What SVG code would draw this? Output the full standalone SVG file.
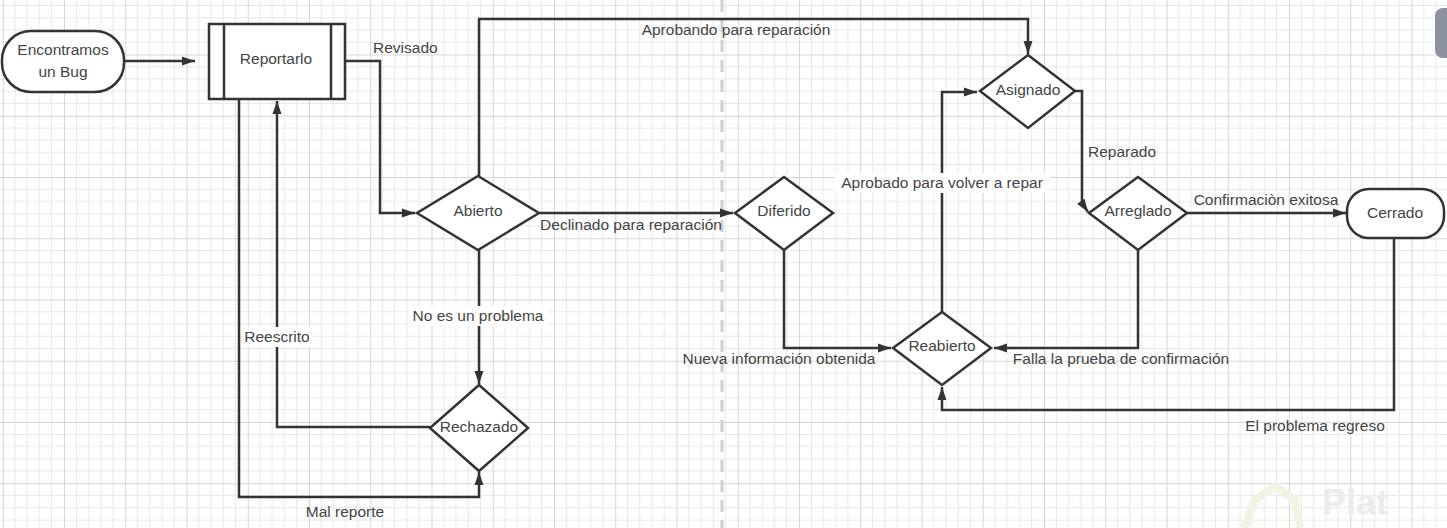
<svg xmlns="http://www.w3.org/2000/svg" width="1447" height="528" viewBox="0 0 1447 528">
<style>
.shape{fill:#fff;stroke:#333;stroke-width:2.5}
.conn{fill:none;stroke:#333;stroke-width:2.5}
.t{font-family:"Liberation Sans",Arial,sans-serif;font-size:15.5px;fill:#444;text-anchor:middle}
.lbl{font-family:"Liberation Sans",Arial,sans-serif;font-size:15.5px;fill:#444}
.bg{fill:#fff}
</style>
<defs>
<pattern id="grid" patternUnits="userSpaceOnUse" x="64" y="-6.75" width="61.25" height="61.25">
<path d="M12.25 0V61.25M24.5 0V61.25M36.75 0V61.25M49 0V61.25M0 12.25H61.25M0 24.5H61.25M0 36.75H61.25M0 49H61.25" stroke="#e7e7e7" stroke-width="1" fill="none"/>
<path d="M0.5 0V61.25M0 0.5H61.25" stroke="#d6d6d6" stroke-width="1" fill="none"/>
</pattern>
<marker id="arr" markerUnits="userSpaceOnUse" markerWidth="14" markerHeight="12" viewBox="0 0 14 12" refX="13" refY="6" orient="auto">
<path d="M0,1.5 L13,6 L0,10.5 Z" fill="#333"/>
</marker>
</defs>
<rect width="1447" height="528" fill="#fff"/>
<rect width="1447" height="528" fill="url(#grid)"/>
<line x1="722" y1="0" x2="722" y2="528" stroke="#cfcfcf" stroke-width="3" stroke-dasharray="12 8"/>
<rect x="1435" y="8" width="20" height="50" rx="8" fill="#8c919e"/>
<path d="M1245,528 L1255,500 L1275,486 L1295,500 L1300,528" fill="none" stroke="#f0f4e2" stroke-width="8"/>
<text x="1322" y="515" font-family="Liberation Sans,Arial,sans-serif" font-size="36" font-weight="bold" fill="#ececec">Plat</text>

<g id="connectors">
<path class="conn" d="M125,61 H195" marker-end="url(#arr)"/>
<path class="conn" d="M345,61 H380 V213 H415" marker-end="url(#arr)"/>
<path class="conn" d="M479,176 V19 H1028 V54" marker-end="url(#arr)"/>
<path class="conn" d="M540,213 H733" marker-end="url(#arr)"/>
<path class="conn" d="M479,250 V384" marker-end="url(#arr)"/>
<path class="conn" d="M430,427 H277 V101" marker-end="url(#arr)"/>
<path class="conn" d="M239,99 V497 H479 V472" marker-end="url(#arr)"/>
<path class="conn" d="M784,250 V348 H891" marker-end="url(#arr)"/>
<path class="conn" d="M942,312 V92 H977" marker-end="url(#arr)"/>
<path class="conn" d="M1075,91 H1082 V203 L1088,212" marker-end="url(#arr)"/>
<path class="conn" d="M1187,213 H1346" marker-end="url(#arr)"/>
<path class="conn" d="M1138,250 V348 H994" marker-end="url(#arr)"/>
<path class="conn" d="M1394,238 V410 H942 V387" marker-end="url(#arr)"/>

<text class="lbl" x="373" y="53">Revisado</text>
<text class="t" x="736" y="35">Aprobando para reparación</text>
<text class="t" x="631" y="230">Declinado para reparación</text>
<rect class="bg" x="408" y="306" width="140" height="20"/>
<text class="t" x="478" y="321">No es un problema</text>
<rect class="bg" x="243" y="327" width="70" height="20"/>
<text class="t" x="277" y="342">Reescrito</text>
<text class="t" x="345" y="517">Mal reporte</text>
<text class="t" x="779" y="364">Nueva información obtenida</text>
<rect class="bg" x="835" y="173" width="215" height="20"/>
<text class="t" x="942" y="188">Aprobado para volver a repar</text>
<text class="lbl" x="1088" y="157">Reparado</text>
<text class="t" x="1266" y="205">Confirmaciòn exitosa</text>
<text class="t" x="1121" y="364">Falla la prueba de confirmación</text>
<text class="t" x="1315" y="431">El problema regreso</text>
</g>

<g id="encontramos">
<rect class="shape" x="2" y="31" width="122" height="61" rx="29"/>
<text class="t" x="63" y="55">Encontramos</text>
<text class="t" x="63" y="77">un Bug</text>
</g>
<g id="reportarlo">
<rect class="shape" x="209" y="24" width="136" height="75"/>
<line x1="224" y1="24" x2="224" y2="99" stroke="#333" stroke-width="2.5"/>
<line x1="331" y1="24" x2="331" y2="99" stroke="#333" stroke-width="2.5"/>
<text class="t" x="276" y="64">Reportarlo</text>
</g>
<g id="abierto">
<polygon class="shape" points="478,176 539,213 478,250 417,213"/>
<text class="t" x="478" y="216">Abierto</text>
</g>
<g id="diferido">
<polygon class="shape" points="784,177 833,213 784,250 735,213"/>
<text class="t" x="784" y="216">Diferido</text>
</g>
<g id="rechazado">
<polygon class="shape" points="479,385 528,428 479,471 430,428"/>
<text class="t" x="479" y="432">Rechazado</text>
</g>
<g id="reabierto">
<polygon class="shape" points="942,312 991,348 942,385 893,348"/>
<text class="t" x="942" y="351">Reabierto</text>
</g>
<g id="asignado">
<polygon class="shape" points="1028,55 1075,91 1028,128 980,91"/>
<text class="t" x="1028" y="95">Asignado</text>
</g>
<g id="arreglado">
<polygon class="shape" points="1138,177 1187,213 1138,250 1089,213"/>
<text class="t" x="1138" y="216">Arreglado</text>
</g>
<g id="cerrado">
<rect class="shape" x="1347" y="189" width="97" height="49" rx="22"/>
<text class="t" x="1395" y="218">Cerrado</text>
</g>
</svg>
